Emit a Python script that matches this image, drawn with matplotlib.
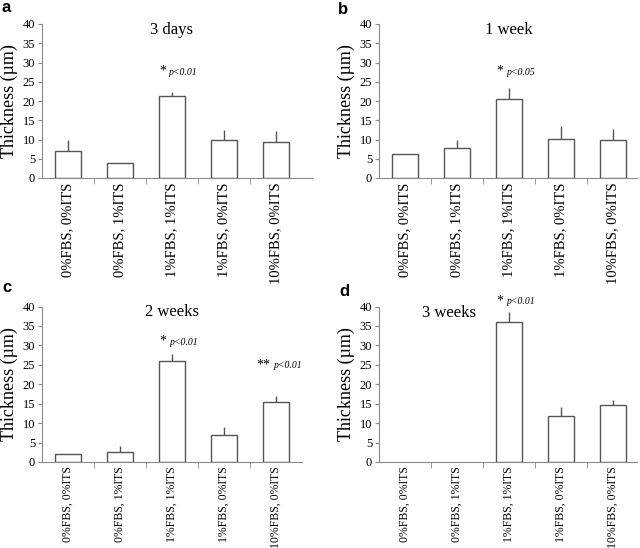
import matplotlib.pyplot as plt
import numpy as np

plt.rcParams['font.family'] = ['Liberation Serif', 'DejaVu Serif']

# Dados
grupos = ['0%FBS, 0%ITS', '0%FBS, 1%ITS', '1%FBS, 1%ITS', '1%FBS, 0%ITS', '10%FBS, 0%ITS']
titulos = ['3 days', '1 week', '2 weeks', '3 weeks']
letras = ['a', 'b', 'c', 'd']

media_3d = [7.0, 4.0, 21.2, 9.8, 9.3]
erro_3d = [2.9, 0.0, 1.1, 2.7, 2.8]
media_1w = [6.2, 7.9, 20.4, 10.2, 10.0]
erro_1w = [0.0, 2.0, 2.9, 3.3, 2.7]
media_2w = [2.1, 2.7, 26.0, 7.0, 15.5]
erro_2w = [0.0, 1.4, 1.9, 2.1, 1.5]
media_3w = [0.0, 0.0, 35.9, 11.9, 14.7]
erro_3w = [0.0, 0.0, 2.6, 2.2, 1.3]

medias = [media_3d, media_1w, media_2w, media_3w]
erros = [erro_3d, erro_1w, erro_2w, erro_3w]

# anotacoes: (indice da barra, estrelas, texto p, altura)
anotacoes = [
    [(2, '*', 'p<0.01', 26.8)],
    [(2, '*', 'p<0.05', 26.8)],
    [(2, '*', 'p<0.01', 30.2), (4, '**', 'p<0.01', 24.1)],
    [(2, '*', 'p<0.01', 40.6)],
]

fig = plt.figure(figsize=(6.4, 5.48), dpi=100)

posicoes = [
    [42 / 640, 1 - 178 / 548, 270 / 640, 154 / 548],
    [379 / 640, 1 - 178 / 548, 258 / 640, 154 / 548],
    [42 / 640, 1 - 462 / 548, 260 / 640, 155.5 / 548],
    [379 / 640, 1 - 462 / 548, 258 / 640, 155.5 / 548],
]
xlims = [(-0.5, 4.7), (-0.5, 4.46), (-0.5, 4.5), (-0.5, 4.46)]
tam_rotulo = [10.5, 10.5, 8.5, 8.5]

x = np.arange(len(grupos))
cinza = '#8a8a8a'

for i in range(4):
    ax = fig.add_axes(posicoes[i])
    m = np.array(medias[i])
    e = np.array(erros[i])
    visivel = m > 0
    ax.bar(x[visivel], m[visivel], width=0.5, color='white', edgecolor='#555555',
           linewidth=1.0, zorder=2)
    tem = e > 0
    ax.errorbar(x[tem], m[tem], yerr=[np.zeros(tem.sum()), e[tem]], fmt='none',
                ecolor='#555555', elinewidth=1.0, capsize=0, zorder=3)

    ax.set_xlim(*xlims[i])
    ax.set_ylim(0, 40)
    ax.set_yticks(np.arange(0, 41, 5))
    ax.set_xticks(x)
    ax.set_xticklabels(grupos, rotation=90, fontsize=tam_rotulo[i])
    ax.set_xticks(x[:-1] + 0.5, minor=True)
    ax.tick_params(axis='x', which='major', length=0, pad=3)
    ax.tick_params(axis='x', which='minor', length=4, color=cinza)
    ax.tick_params(axis='y', length=3, color=cinza, labelsize=9, pad=2)
    ax.set_ylabel('Thickness (µm)', fontsize=13, labelpad=3)

    for lado in ['top', 'right']:
        ax.spines[lado].set_visible(False)
    for lado in ['left', 'bottom']:
        ax.spines[lado].set_color(cinza)

    if i == 3:
        ax.text(0.85, 38.3, titulos[i], ha='center', va='center', fontsize=12)
    else:
        ax.text(2, 38.5, titulos[i], ha='center', va='center', fontsize=12)

    for (idx, estrela, ptxt, alt) in anotacoes[i]:
        ax.annotate(estrela, (idx, alt), ha='right', va='baseline', fontsize=10,
                    xytext=(-4, 0), textcoords='offset points', annotation_clip=False)
        ax.annotate(ptxt, (idx, alt), ha='left', va='baseline', fontsize=7,
                    style='italic', xytext=(-2, 0), textcoords='offset points',
                    annotation_clip=False)

# letras dos paineis
fig.text(2 / 640, 1 - 8 / 548, 'a', fontsize=12, fontweight='bold', family='Liberation Sans', va='center')
fig.text(338 / 640, 1 - 10 / 548, 'b', fontsize=12, fontweight='bold', family='Liberation Sans', va='center')
fig.text(2 / 640, 1 - 288 / 548, 'c', fontsize=12, fontweight='bold', family='Liberation Sans', va='center')
fig.text(339 / 640, 1 - 292 / 548, 'd', fontsize=12, fontweight='bold', family='Liberation Sans', va='center')

fig.savefig('out.png', dpi=100)
